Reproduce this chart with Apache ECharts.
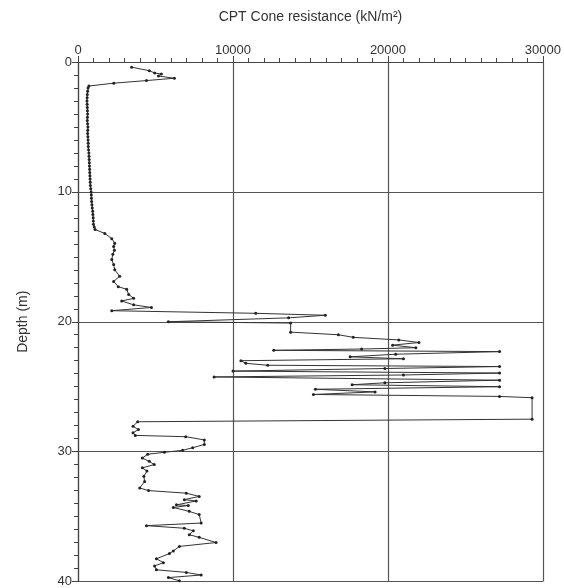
<!DOCTYPE html>
<html><head><meta charset="utf-8">
<script src="https://cdn.jsdelivr.net/npm/echarts@6/dist/echarts.min.js"></script>
<style>html,body{margin:0;padding:0;background:#fff}#c{width:564px;height:588px}</style>
</head><body><div id="c"></div>
<script>
// Depth (m) and CPT cone resistance (kN/m²) readings
const depth = [
 0.4,0.67,0.85,0.92,1.08,1.25,1.43,1.63,1.85,
 2.0,2.25,2.5,2.75,3.0,3.25,3.5,3.75,4.0,4.25,4.5,4.75,5.0,5.25,5.5,5.75,6.0,6.25,6.5,6.75,7.0,7.25,7.5,7.75,8.0,8.25,8.5,8.75,9.0,9.25,9.5,9.75,10.0,10.25,10.5,10.75,11.0,11.25,11.5,11.75,12.0,12.25,12.5,12.7,12.9,
 13.2,13.6,13.95,14.2,14.5,14.8,15.2,15.6,16.0,16.5,16.9,17.3,17.5,17.9,18.2,18.4,18.7,18.9,
 19.15,19.35,19.5,19.7,20.0,20.1,20.8,21.0,21.2,21.4,21.6,21.8,22.0,22.1,22.2,22.3,22.5,22.7,22.85,
 23.0,23.2,23.35,23.45,23.6,23.8,23.95,24.1,24.25,24.5,24.7,24.85,25.0,25.2,25.4,25.6,25.75,25.85,27.5,
 27.7,28.05,28.3,28.55,28.75,28.85,29.1,29.45,29.7,29.9,30.05,30.2,30.5,30.75,31.0,31.25,31.5,31.9,32.3,32.8,
 33.0,33.2,33.45,33.7,33.8,34.1,34.15,34.3,34.6,34.85,35.5,35.7,35.9,36.1,36.4,36.6,37.0,37.3,37.65,37.85,
 38.25,38.55,38.8,39.1,39.3,39.5,39.7,39.95
];
const resistance = [
 3460,4600,4950,5380,5190,6220,4420,2310,700,
 650,620,600,590,580,590,600,610,620,610,600,620,640,630,620,640,650,660,660,680,700,710,720,730,740,750,760,770,780,790,800,820,850,860,870,880,900,920,950,960,980,990,1000,1050,1100,
 1730,2180,2370,2300,2350,2250,2180,2300,2370,2690,2300,2600,3140,3270,3590,2820,3590,4740,
 2180,11470,15960,13590,5830,13720,13720,16800,17760,20700,22000,20300,21800,18300,12630,27200,20500,17560,21000,
 10510,10830,12240,27200,19800,10000,27200,21000,8780,27200,19800,17690,27200,15320,19170,15190,27200,29300,29300,
 3850,3550,3900,3550,3700,6950,8150,8150,7400,6750,5580,4500,4150,4600,4920,4150,4450,4250,4300,3980,
 4550,6990,7820,6860,7630,6350,7120,6150,7180,7820,7950,4420,6860,7440,7180,7820,8910,6540,6150,5900,
 5060,5510,4940,5060,6990,7950,5830,6540
];
const xTicks = [0, 10000, 20000, 30000];
const yTicks = [0, 10, 20, 30, 40];

const pts = depth.map((d, i) => [resistance[i], d]);
const chart = echarts.init(document.getElementById('c'));
const font = 'Liberation Sans, Arial, sans-serif';
chart.setOption({
  animation: false,
  grid: {left: 78, right: 18, top: 62, bottom: 5},
  xAxis: {
    type: 'value', position: 'top', min: xTicks[0], max: xTicks[xTicks.length-1], interval: 10000,
    name: 'CPT Cone resistance (kN/m²)', nameLocation: 'middle', nameGap: 38,
    nameTextStyle: {fontFamily: font, fontSize: 14, color: '#333'},
    axisLine: {lineStyle: {color: '#444', width: 1.2}},
    axisTick: {show: true, length: 6, lineStyle: {color: '#444'}},
    minorTick: {show: true, splitNumber: 10, length: 4, lineStyle: {color: '#444', width: 1}},
    axisLabel: {fontFamily: font, fontSize: 13, color: '#333', margin: 5, formatter: v => String(v)},
    splitLine: {show: true, lineStyle: {color: '#555', width: 1.2}}
  },
  yAxis: {
    type: 'value', inverse: true, min: yTicks[0], max: yTicks[yTicks.length-1], interval: 10,
    name: 'Depth (m)', nameLocation: 'middle', nameGap: 48,
    nameTextStyle: {fontFamily: font, fontSize: 14, color: '#333'},
    axisLine: {show: true, lineStyle: {color: '#444', width: 1.2}},
    axisTick: {show: true, length: 6, lineStyle: {color: '#444'}},
    minorTick: {show: true, splitNumber: 10, length: 4, lineStyle: {color: '#444', width: 1}},
    axisLabel: {fontFamily: font, fontSize: 13, color: '#333', margin: 6, formatter: v => String(v)},
    splitLine: {show: true, lineStyle: {color: '#555', width: 1.2}}
  },
  series: [{
    type: 'line', data: pts, showSymbol: true, symbol: 'circle', symbolSize: 3,
    lineStyle: {color: '#333', width: 1},
    itemStyle: {color: '#222'}
  }]
});
</script></body></html>
